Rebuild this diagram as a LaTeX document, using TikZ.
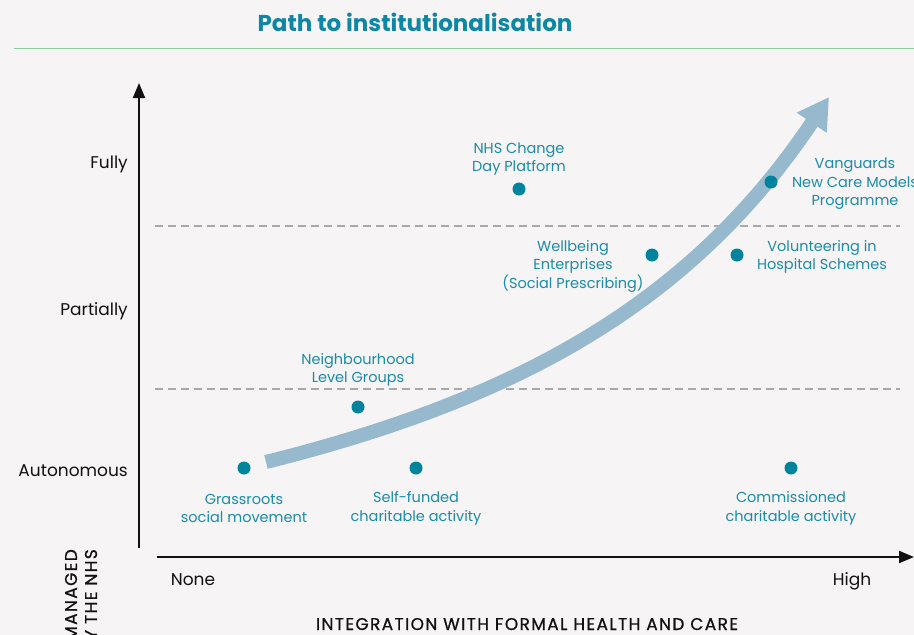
\documentclass[tikz,border=0pt]{standalone}
\usepackage{fontspec}
\setmainfont{Poppins}
\usetikzlibrary{arrows.meta}
\definecolor{bgcol}{HTML}{F6F4F5}
\definecolor{tealtext}{HTML}{1A8CA8}
\definecolor{titlecol}{HTML}{0E87A4}
\definecolor{dotcol}{HTML}{00839D}
\definecolor{arrowcol}{HTML}{96B9CD}
\definecolor{rulecol}{HTML}{8FCE9C}
\definecolor{dashcol}{HTML}{A9A9A9}
\definecolor{inkcol}{HTML}{111111}
\tikzset{
  titlestyle/.style={text=titlecol, font=\fontsize{23}{27}\selectfont\bfseries, inner sep=0pt},
  axisline/.style={draw=inkcol, line width=2pt, -{Triangle[length=15pt,width=12pt]}},
  guide/.style={draw=dashcol, line width=1.2pt, dash pattern=on 8pt off 5pt},
  ylab/.style={text=inkcol, font=\fontsize{17}{20}\selectfont, inner sep=0pt},
  xlab/.style={text=inkcol, font=\fontsize{17}{20}\selectfont, inner sep=0pt},
  axtitle/.style={text=inkcol, font=\fontsize{17}{20}\selectfont\addfontfeatures{LetterSpace=8,FakeBold=0.8}, inner sep=0pt},
  dotnode/.style={circle, fill=dotcol, minimum size=13pt, inner sep=0pt},
  itemlab/.style={text=tealtext, align=center, font=\fontsize{14.5}{18.5}\selectfont, inner sep=0pt},
  bigarrow/.style={draw=arrowcol, line width=14pt, -{Triangle[length=31pt,width=34pt]}},
}
\begin{document}
\begin{tikzpicture}[x=1pt,y=-1pt]
\fill[bgcol] (0,0) rectangle (914,635);
\useasboundingbox (0,0) rectangle (914,635);

% title and rule
\node[titlestyle] (title) at (415,22) {Path to institutionalisation};
\coordinate (ruleL) at (14,48.5);
\coordinate (ruleR) at (914,48.5);
\draw[rulecol, line width=1pt] (ruleL) -- (ruleR);

% dashed guides
\coordinate (g1a) at (155,226); \coordinate (g1b) at (900,226);
\coordinate (g2a) at (155,389); \coordinate (g2b) at (900,389);
\draw[guide] (g1a) -- (g1b);
\draw[guide] (g2a) -- (g2b);

% axes
\coordinate (yaxB) at (139,548); \coordinate (yaxT) at (139,83);
\coordinate (xaxL) at (157,557); \coordinate (xaxR) at (914,557);
\draw[axisline] (yaxB) -- (yaxT);
\draw[axisline] (xaxL) -- (xaxR);

% axis labels
\node[ylab, anchor=base east] (fully) at (128,168) {Fully};
\node[ylab, anchor=base east] (partially) at (128,315) {Partially};
\node[ylab, anchor=base east] (autonomous) at (128,476) {Autonomous};
\node[xlab, anchor=base] (none) at (193,585) {None};
\node[xlab, anchor=base] (high) at (852,585) {High};
\node[axtitle, anchor=base] (xtitle) at (527,630) {INTEGRATION WITH FORMAL HEALTH AND CARE};
\node[axtitle, rotate=90, anchor=east, align=right] (ytitle) at (81,549) {MANAGED\\BY THE NHS};

% path arrow
\coordinate (arrS) at (266,462);
\coordinate (arrE) at (829,97);
\draw[bigarrow] (arrS) .. controls (516,399.5) and (690,304.5) .. (arrE);

% dots
\node[dotnode] (grass) at (244,468) {};
\node[dotnode] (selff) at (416,468) {};
\node[dotnode] (comm) at (791,468) {};
\node[dotnode] (neigh) at (358,407) {};
\node[dotnode] (nhs) at (519,189) {};
\node[dotnode] (well) at (652,255) {};
\node[dotnode] (volu) at (737,255) {};
\node[dotnode] (vang) at (771,182) {};

% dot labels
\node[itemlab] (grassL) at (244,508.5) {Grassroots\\social movement};
\node[itemlab] (selffL) at (416,508.5) {Self-funded\\charitable activity};
\node[itemlab] (commL) at (791,508.5) {Commissioned\\charitable activity};
\node[itemlab] (neighL) at (358,370) {Neighbourhood\\Level Groups};
\node[itemlab] (nhsL) at (519,159) {NHS Change\\Day Platform};
\node[itemlab] (wellL) at (573,266) {Wellbeing\\Enterprises\\(Social Prescribing)};
\node[itemlab] (voluL) at (822,257) {Volunteering in\\Hospital Schemes};
\node[itemlab] (vangL) at (855,184) {Vanguards\\New Care Models\\Programme};
\end{tikzpicture}
\end{document}
